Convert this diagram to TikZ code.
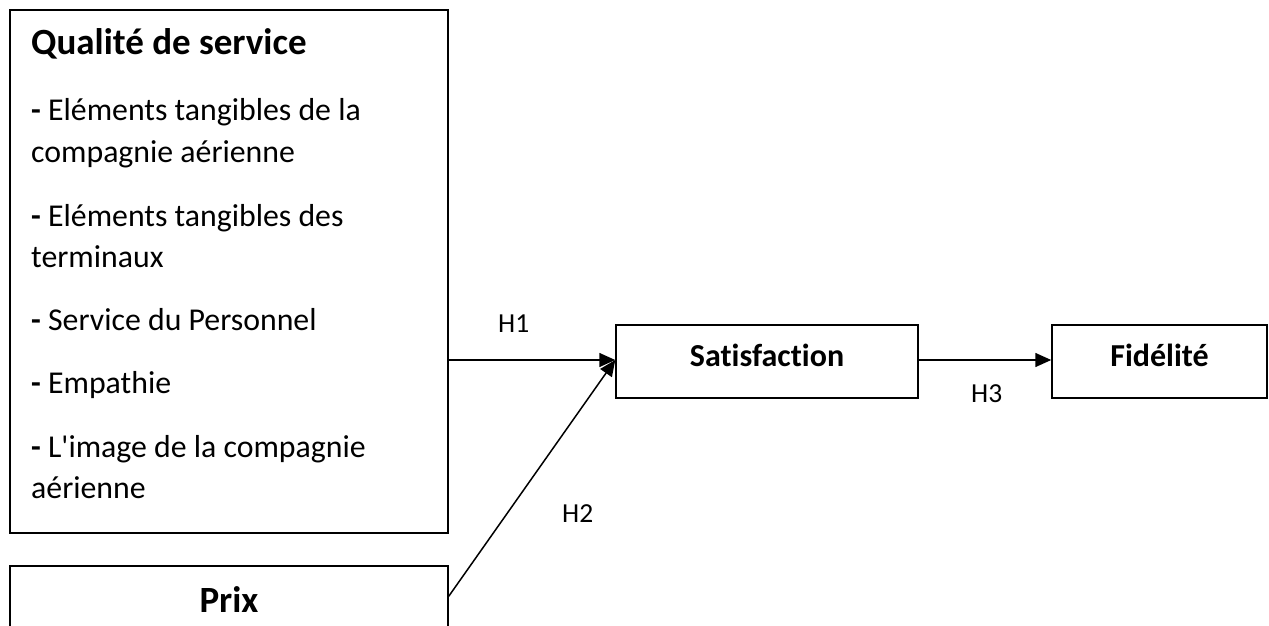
\documentclass[tikz,border=0pt]{standalone}
\usepackage{fontspec}
\setmainfont{Carlito}
\newfontfamily\calfnt{Carlito}[Ligatures=CommonOff]
\usetikzlibrary{arrows.meta}
\tikzset{
  box/.style={draw, line width=1.5pt, rectangle, inner sep=0pt},
  body/.style={anchor=base west, inner sep=0pt, font=\calfnt\fontsize{31.8}{38}\selectfont},
  title/.style={inner sep=0pt, font=\calfnt\fontsize{37}{44}\selectfont\bfseries},
  boxlabel/.style={anchor=base, inner sep=0pt, font=\calfnt\fontsize{32}{38}\selectfont\bfseries},
  hlabel/.style={anchor=base west, inner sep=0pt, font=\calfnt\fontsize{27.5}{33}\selectfont},
  conn/.style={line width=1.5pt, -{Triangle[length=16pt,width=14pt]}}
}
\begin{document}
\begin{tikzpicture}[x=1pt,y=-1pt]
\useasboundingbox (0,0) rectangle (1269,626);
\clip (0,0) rectangle (1269,626);
% boxes
\node[box, minimum width=438pt, minimum height=523pt] (qs) at (229,271.5) {};
\node[box, minimum width=438pt, minimum height=90pt] (prix) at (229,611) {};
\node[box, minimum width=302pt, minimum height=73pt] (sat) at (767,361.5) {};
\node[box, minimum width=215pt, minimum height=73pt] (fid) at (1159.5,361.5) {};
% texts of the first box
\node[title, anchor=base west] (t0) at (31,55) {Qualité de service};
\node[body] (t1) at (31,120) {\textbf{-} Eléments tangibles de la};
\node[body] (t2) at (31,162) {compagnie aérienne};
\node[body] (t3) at (31,226) {\textbf{-} Eléments tangibles des};
\node[body] (t4) at (31,267) {terminaux};
\node[body] (t5) at (31,330) {\textbf{-} Service du Personnel};
\node[body] (t6) at (31,393) {\textbf{-} Empathie};
\node[body] (t7) at (31,457) {\textbf{-} L'image de la compagnie};
\node[body] (t8) at (31,498) {aérienne};
% other box labels
\node[title, anchor=base] (tp) at (229,612) {Prix};
\node[boxlabel] (ts) at (767,366) {Satisfaction};
\node[boxlabel] (tf) at (1159.5,366) {Fidélité};
% connectors
\coordinate (sin) at ([yshift=1.5pt]sat.west);
\draw[conn] ([yshift=1.5pt]qs.east |- sat.west) -- (sin);
\draw[conn] ([yshift=-31pt]prix.north east) -- (sin);
\draw[conn] ([yshift=1.5pt]sat.east) -- ([yshift=1.5pt]fid.west);
% hypothesis labels
\node[hlabel] (h1) at (498,332) {H1};
\node[hlabel] (h2) at (562,522) {H2};
\node[hlabel] (h3) at (971,402) {H3};
\end{tikzpicture}
\end{document}
